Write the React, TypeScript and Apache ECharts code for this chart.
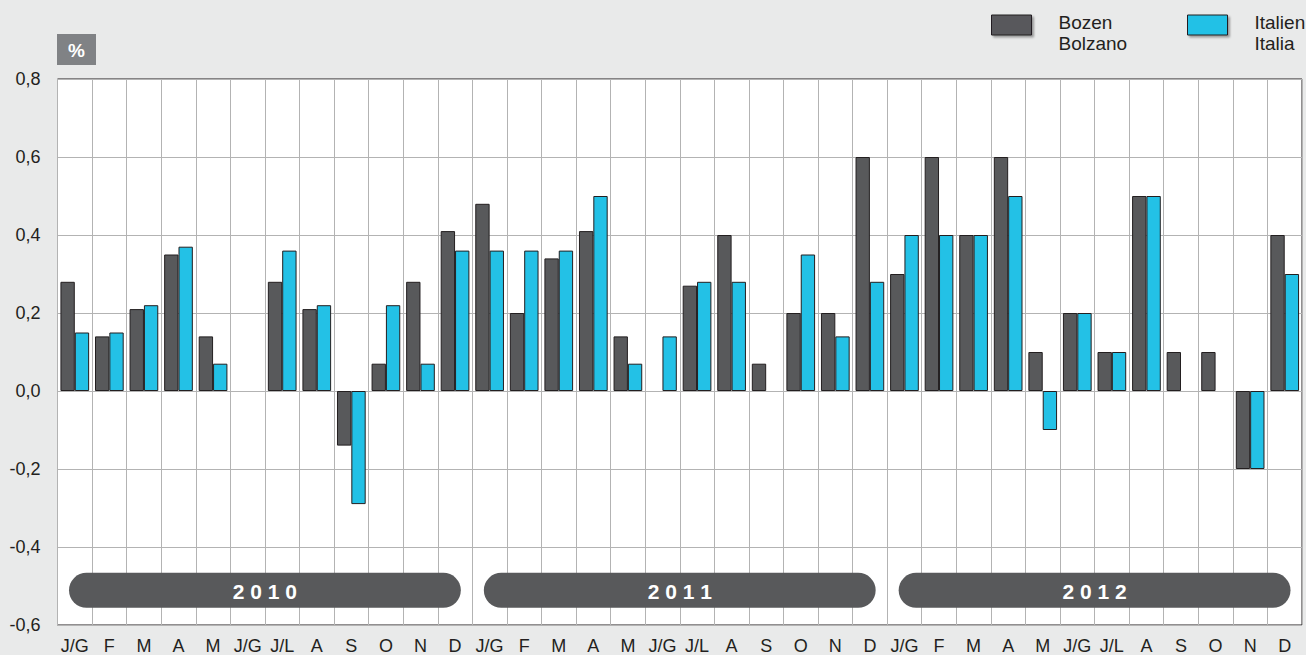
import React, { useEffect, useRef } from "react";
import * as echarts from "echarts";

const months = ["J/G", "F", "M", "A", "M", "J/G", "J/L", "A", "S", "O", "N", "D"];
const years = ["2010", "2011", "2012"];
const categories = years.flatMap(() => months);
const seriesNames = ["Bozen\nBolzano", "Italien\nItalia"];
const bolzano = [
  0.28, 0.14, 0.21, 0.35, 0.14, 0, 0.28, 0.21, -0.14, 0.07, 0.28, 0.41,
  0.48, 0.2, 0.34, 0.41, 0.14, 0, 0.27, 0.4, 0.07, 0.2, 0.2, 0.6,
  0.3, 0.6, 0.4, 0.6, 0.1, 0.2, 0.1, 0.5, 0.1, 0.1, -0.2, 0.4,
];
const italia = [
  0.15, 0.15, 0.22, 0.37, 0.07, 0, 0.36, 0.22, -0.29, 0.22, 0.07, 0.36,
  0.36, 0.36, 0.36, 0.5, 0.07, 0.14, 0.28, 0.28, 0, 0.35, 0.14, 0.28,
  0.4, 0.4, 0.4, 0.5, -0.1, 0.2, 0.1, 0.5, 0, 0, -0.2, 0.3,
];
const yMin = -0.6;
const yMax = 0.8;
const yStep = 0.2;
const unitLabel = "%";

const FONT = "'Liberation Sans', Arial, Helvetica, sans-serif";
const TEXT = "#231f20";
const DARK = "#58595b";
const CYAN = "#23c1e6";
const GRIDC = "#b3b3b3";

function toItems(values: number[]) {
  return values.map((v) =>
    v === 0 ? { value: v, itemStyle: { borderWidth: 0 } } : { value: v }
  );
}

function legendFor(name: string, left: number) {
  return {
    left,
    top: -1,
    padding: 0,
    itemWidth: 40,
    itemHeight: 20,
    icon: "rect",
    selectedMode: false,
    data: [name],
    formatter: (n: string) =>
      "{s| }\n" + n.split("\n").map((l) => `{t|${l}}`).join("\n"),
    itemStyle: {
      borderColor: TEXT,
      borderWidth: 1,
      shadowColor: "rgba(0,0,0,0.35)",
      shadowBlur: 2,
      shadowOffsetX: 2,
      shadowOffsetY: 2,
    },
    textStyle: {
      fontFamily: FONT,
      fontSize: 19,
      color: TEXT,
      padding: [0, 0, 0, 22],
      rich: {
        s: { fontSize: 10, lineHeight: 16, fontFamily: FONT },
        t: { fontSize: 19, lineHeight: 21, fontFamily: FONT, color: TEXT },
      },
    },
  };
}

export default function App() {
  const ref = useRef<HTMLDivElement>(null);
  useEffect(() => {
    if (!ref.current) return;
    const chart = echarts.init(ref.current, undefined, { renderer: "svg" });
    const option: any = {
      animation: false,
      backgroundColor: "#e9eaea",
      textStyle: { fontFamily: FONT },
      grid: {
        left: 57.5,
        right: 4,
        top: 79,
        bottom: 30,
        show: true,
        backgroundColor: "#ffffff",
        borderColor: TEXT,
        borderWidth: 1,
      },
      legend: [legendFor(seriesNames[0], 991), legendFor(seriesNames[1], 1187)],
      xAxis: {
        type: "category",
        data: categories,
        boundaryGap: true,
        axisLine: { show: false },
        axisTick: { show: false },
        axisLabel: {
          interval: 0,
          margin: 12,
          fontSize: 18,
          color: TEXT,
          fontFamily: FONT,
        },
        splitLine: { show: true, interval: 0, lineStyle: { color: GRIDC, width: 1 } },
      },
      yAxis: {
        type: "value",
        min: yMin,
        max: yMax,
        interval: yStep,
        axisLine: { show: false },
        axisTick: { show: false },
        axisLabel: {
          margin: 17,
          fontSize: 18,
          color: TEXT,
          fontFamily: FONT,
          formatter: (v: number) => v.toFixed(1).replace(".", ","),
        },
        splitLine: { show: true, lineStyle: { color: GRIDC, width: 1 } },
      },
      series: [
        {
          name: seriesNames[0],
          type: "bar",
          data: toItems(bolzano),
          barGap: "0%",
          barCategoryGap: "17%",
          itemStyle: { color: DARK, borderColor: TEXT, borderWidth: 1 },
        },
        {
          name: seriesNames[1],
          type: "bar",
          data: toItems(italia),
          barGap: "0%",
          barCategoryGap: "17%",
          itemStyle: { color: CYAN, borderColor: TEXT, borderWidth: 1 },
        },
      ],
    };
    chart.setOption(option);

    const c0 = chart.convertToPixel({ xAxisIndex: 0 }, 0) as number;
    const c1 = chart.convertToPixel({ xAxisIndex: 0 }, 1) as number;
    const catW = c1 - c0;
    const yTop = chart.convertToPixel({ yAxisIndex: 0 }, -0.466) as number;
    const yBot = chart.convertToPixel({ yAxisIndex: 0 }, -0.556) as number;
    const pillH = yBot - yTop;
    const graphics: any[] = [];
    years.forEach((yr, i) => {
      const first = i * months.length;
      const last = first + months.length - 1;
      const xl = (chart.convertToPixel({ xAxisIndex: 0 }, first) as number) - catW / 2 + 11.5;
      const xr = (chart.convertToPixel({ xAxisIndex: 0 }, last) as number) + catW / 2 - 11.5;
      graphics.push({
        type: "rect",
        shape: { x: xl, y: yTop, width: xr - xl, height: pillH, r: pillH / 2 },
        style: { fill: DARK },
        z: 10,
      });
      graphics.push({
        type: "text",
        x: (xl + xr) / 2,
        y: yTop + pillH / 2 + 1,
        style: {
          text: yr.split("").join(" "),
          fill: "#ffffff",
          font: `bold 21px ${FONT}`,
          textAlign: "center",
          textVerticalAlign: "middle",
        },
        z: 11,
      });
    });
    graphics.push({
      type: "rect",
      shape: { x: 57, y: 34, width: 39, height: 31 },
      style: { fill: "#808285" },
      z: 10,
    });
    graphics.push({
      type: "text",
      x: 76.5,
      y: 50,
      style: {
        text: unitLabel,
        fill: "#ffffff",
        font: `bold 19px ${FONT}`,
        textAlign: "center",
        textVerticalAlign: "middle",
      },
      z: 11,
    });
    chart.setOption({ graphic: graphics });

    return () => chart.dispose();
  }, []);
  return (
    <div
      ref={ref}
      style={{ position: "fixed", left: 0, top: 0, width: 1306, height: 655 }}
    />
  );
}
